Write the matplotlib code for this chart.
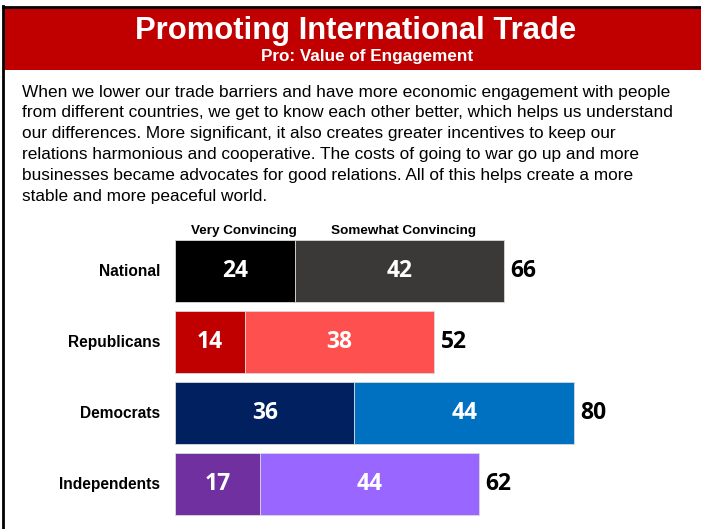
import matplotlib
matplotlib.use("Agg")
import matplotlib.pyplot as plt
from matplotlib.patches import Rectangle
from matplotlib.transforms import offset_copy

groups = ["National", "Republicans", "Democrats", "Independents"]
very = [24, 14, 36, 17]
somewhat = [42, 38, 44, 44]
totals = [66, 52, 80, 62]
series_names = ["Very Convincing", "Somewhat Convincing"]
very_colors = ["#000000", "#C00000", "#002060", "#7030A0"]
somewhat_colors = ["#3B3838", "#FF5050", "#0070C0", "#9966FF"]

title = "Promoting International Trade"
subtitle = "Pro: Value of Engagement"
body = [
    "When we lower our trade barriers and have more economic engagement with people",
    "from different countries, we get to know each other better, which helps us understand",
    "our differences. More significant, it also creates greater incentives to keep our",
    "relations harmonious and cooperative. The costs of going to war go up and more",
    "businesses became advocates for good relations. All of this helps create a more",
    "stable and more peaceful world.",
]

W, H = 701, 529
fig = plt.figure(figsize=(W / 100, H / 100), dpi=100)
fig.patch.set_facecolor("white")


def fx(px):
    return px / W


def fy(py):
    return 1 - py / H


SANS = ["Liberation Sans", "DejaVu Sans"]
NUM = ["Open Sans", "DejaVu Sans"]

# header band and frame
fig.add_artist(Rectangle((fx(4), fy(70)), fx(W) - fx(4), fy(8) - fy(70),
                         transform=fig.transFigure, facecolor="#C00000",
                         edgecolor="none"))
fig.add_artist(plt.Line2D([fx(3), fx(3)], [fy(6), 0], transform=fig.transFigure,
                          color="black", lw=2))
fig.add_artist(plt.Line2D([fx(3), 1], [fy(7), fy(7)], transform=fig.transFigure,
                          color="black", lw=2))
fig.text(fx(356), fy(31), title, color="white", fontsize=22.3, fontweight="bold",
         family=SANS, ha="center", va="center")
fig.text(fx(367), fy(57), subtitle, color="white", fontsize=12.3, fontweight="bold",
         family=SANS, ha="center", va="center")

for i, line in enumerate(body):
    fig.text(fx(22), fy(92 + i * 20.8), line, fontsize=12.4, family=SANS,
             ha="left", va="center", color="black")

# bar panel: 4 slots of 71 px starting at y=235.5
px_per_unit = 4.985
xmax = 100
ax_left, ax_top = 175, 235.5
ax_h = 71 * 4
ax = fig.add_axes([fx(ax_left), fy(ax_top + ax_h), px_per_unit * xmax / W, ax_h / H])
ax.set_xlim(0, xmax)
ax.set_ylim(3.5, -0.5)
ax.axis("off")

bh = 62 / 71
ypos = list(range(len(groups)))
ax.barh(ypos, very, height=bh, color=very_colors, edgecolor="#d9d9d9", linewidth=0.6)
ax.barh(ypos, somewhat, left=very, height=bh, color=somewhat_colors,
        edgecolor="#d9d9d9", linewidth=0.6)

for y, g, v, s, t in zip(ypos, groups, very, somewhat, totals):
    ax.text(v / 2, y, str(v), color="white", fontsize=16.5, fontweight="bold",
            family=NUM, ha="center", va="center")
    ax.text(v + s / 2, y, str(s), color="white", fontsize=16.5, fontweight="bold",
            family=NUM, ha="center", va="center")
    ax.text(v + s + 1.3, y, str(t), color="black", fontsize=16.5, fontweight="bold",
            family=NUM, ha="left", va="center")
    ax.text(-3.0, y, g, color="black", fontsize=11.2, fontweight="bold",
            family=SANS, ha="right", va="center")

# series headers above the first bar, nudged right a few pixels
head_y = -0.5 - 0.07
ax.text(very[0] / 2, head_y, series_names[0], fontsize=9.7, fontweight="bold",
        family=SANS, ha="center", va="center",
        transform=offset_copy(ax.transData, fig=fig, x=9, y=0, units="dots"))
ax.text(very[0] + somewhat[0] / 2, head_y, series_names[1], fontsize=9.7,
        fontweight="bold", family=SANS, ha="center", va="center",
        transform=offset_copy(ax.transData, fig=fig, x=4, y=0, units="dots"))

fig.savefig("out.png", dpi=100)
